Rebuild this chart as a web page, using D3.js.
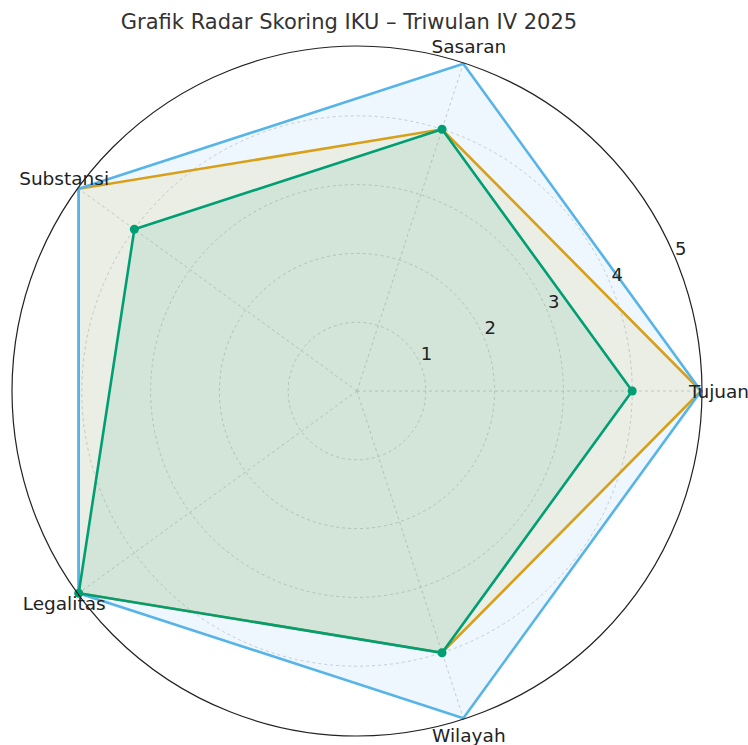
<!DOCTYPE html>
<html><head><meta charset="utf-8">
<script src="https://cdn.jsdelivr.net/npm/d3@7"></script>
<style>body{margin:0;background:#fff}svg{display:block}text{font-family:"DejaVu Sans",sans-serif}</style>
</head><body>
<svg id="c" width="748" height="745"></svg>
<script>
const categories = ["Tujuan","Sasaran","Substansi","Legalitas","Wilayah"];
const seriesNames = ["Realisasi","Target","Capaian"];
const valuesOrange = [5,4,5,5,4];
const valuesBlue = [5,5,5,5,5];
const valuesGreen = [4,4,4,5,4];
const radialTicks = [1,2,3,4,5];
const colors = ["#E69F00","#56B4E9","#009E73"];

const svg = d3.select("#c");
const cx = 357, cy = 391, R = 344;
const r = d3.scaleLinear().domain([0,5]).range([0,R]);
const ang = d3.scaleLinear().domain([0,categories.length]).range([0,2*Math.PI]);
const pt = (i,v)=>[cx + r(v)*Math.cos(ang(i)), cy - r(v)*Math.sin(ang(i))];

svg.append("text").attr("x",349).attr("y",29).attr("text-anchor","middle")
  .attr("font-size",21).attr("fill","#333").text("Grafik Radar Skoring IKU – Triwulan IV 2025");

const g = svg.append("g");
radialTicks.slice(0,-1).forEach(t=>{
  g.append("circle").attr("cx",cx).attr("cy",cy).attr("r",r(t))
   .attr("fill","none").attr("stroke","#c4c4c4").attr("stroke-width",0.8).attr("stroke-dasharray","3,3");
});
categories.forEach((c,i)=>{
  const [x,y]=pt(i,5);
  g.append("line").attr("x1",cx).attr("y1",cy).attr("x2",x).attr("y2",y)
   .attr("stroke","#c4c4c4").attr("stroke-width",0.8).attr("stroke-dasharray","3,3");
});

const series = [valuesOrange, valuesBlue, valuesGreen];
series.forEach((vals,k)=>{
  const pts = vals.map((v,i)=>pt(i,v));
  const s = pts.map(p=>p.join(",")).join(" ");
  g.append("polygon").attr("points",s).attr("fill",colors[k]).attr("fill-opacity",0.1).attr("stroke","none");
  g.append("polygon").attr("points",s).attr("fill","none").attr("stroke",colors[k]).attr("stroke-width",2.6);
  if(k===2){
    g.selectAll(null).data(vals).enter().append("circle")
     .attr("cx",(d,i)=>pt(i,d)[0]).attr("cy",(d,i)=>pt(i,d)[1]).attr("r",4.5).attr("fill",colors[k]);
  }
});

g.append("circle").attr("cx",cx).attr("cy",cy).attr("r",r(5)+1).attr("fill","none").attr("stroke","#222").attr("stroke-width",1.2);

const la = 22.5*Math.PI/180;
radialTicks.forEach(t=>{
  g.append("text").attr("x",cx + r(t)*Math.cos(la)+6).attr("y",cy - r(t)*Math.sin(la)-11)
   .attr("text-anchor","middle").attr("dominant-baseline","central").attr("font-size",18).attr("fill","#222").text(t);
});
categories.forEach((c,i)=>{
  const a=ang(i), rr=R+18;
  g.append("text").attr("x",cx+rr*Math.cos(a)).attr("y",cy-rr*Math.sin(a))
   .attr("text-anchor","middle").attr("dominant-baseline","central").attr("font-size",18.5).attr("fill","#222").text(c);
});
</script>
</body></html>
